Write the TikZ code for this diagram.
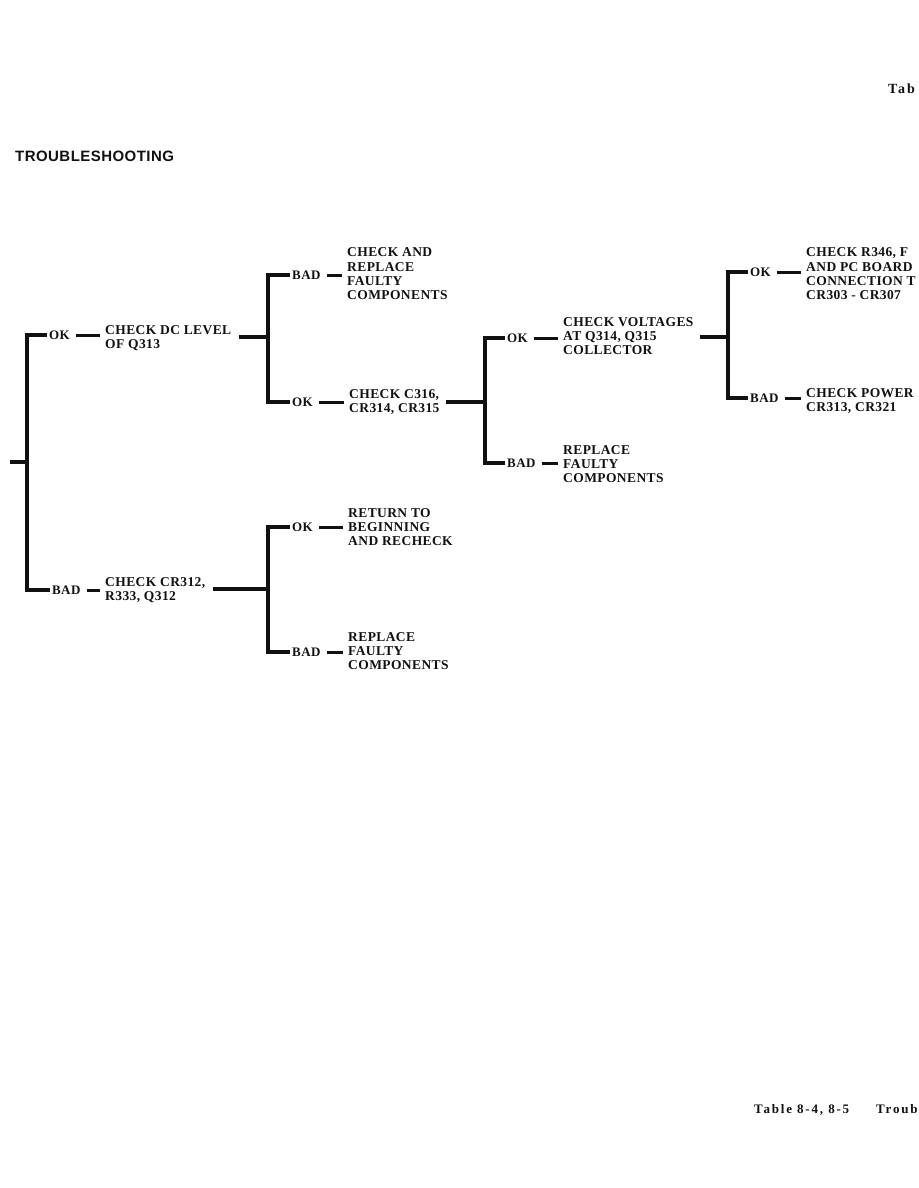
\documentclass[tikz,border=0pt]{standalone}
\usepackage{fontspec}
\setmainfont{Liberation Serif}
\newfontfamily\chartfont[LetterSpace=3]{Liberation Serif}
\newfontfamily\footfont[LetterSpace=14]{Liberation Serif}
\newfontfamily\headfont[LetterSpace=3]{Liberation Sans}
\usepackage{tikz}
\usetikzlibrary{
  positioning,
  calc,
}
\definecolor{ink}{HTML}{111111}
\definecolor{paper}{HTML}{FFFFFF}
\tikzset{
  wire/.style={draw=ink, line width=3.2pt},
  dashline/.style={draw=ink, line width=3pt, shorten <=4pt, shorten >=5pt},
  tag/.style={font=\chartfont\bfseries\fontsize{13}{14.3}\selectfont, text=ink, inner sep=2pt, anchor=west},
  checkbox/.style={
    font=\chartfont\bfseries\fontsize{13.5}{14.3}\selectfont,
    text=ink,
    inner sep=0pt,
    anchor=west,
    align=left,
  },
  heading/.style={font=\headfont\bfseries\fontsize{15}{18}\selectfont, text=ink, anchor=west, inner sep=0pt},
  pagetext/.style={font=\footfont\bfseries\fontsize{13}{15}\selectfont, text=ink, anchor=west, inner sep=0pt},
}

\begin{document}
\begin{tikzpicture}[x=1pt,y=-1pt]
  \useasboundingbox (0,0) rectangle (918,1188);
  \fill[paper] (0,0) rectangle (918,1188);

  % page texts
  \node[pagetext, font=\footfont\bfseries\fontsize{14}{16}\selectfont] (tabtop) at (888,89) {Tab};
  \node[heading] (title) at (15,156) {TROUBLESHOOTING};
  \node[pagetext] (foot) at (754,1110) {Table 8-4, 8-5\hspace{27pt}Troub};

  % junctions
  \coordinate (stub) at (10,462);
  \coordinate (j1) at (27,462);
  \coordinate (j2) at (268,337);
  \coordinate (j3) at (268,589);
  \coordinate (j4) at (485,402);
  \coordinate (j5) at (728,337);

  % first level
  \node[tag] (ok1) at (47,335) {OK};
  \node[checkbox] (dcl) at (105,338) {CHECK DC LEVEL\\OF Q313};
  \node[tag] (bad1) at (50,590) {BAD};
  \node[checkbox] (cr312) at (105,590) {CHECK CR312,\\R333, Q312};

  % second level
  \node[tag] (bad2) at (290,275) {BAD};
  \node[checkbox] (fix1) at (347,274) {CHECK AND\\REPLACE\\FAULTY\\COMPONENTS};
  \node[tag] (ok2) at (290,402) {OK};
  \node[checkbox] (c316) at (349,402) {CHECK C316,\\CR314, CR315};
  \node[tag] (ok3) at (290,527) {OK};
  \node[checkbox] (retn) at (348,527) {RETURN TO\\BEGINNING\\AND RECHECK};
  \node[tag] (bad3) at (290,652) {BAD};
  \node[checkbox] (fix2) at (348,651) {REPLACE\\FAULTY\\COMPONENTS};

  % third level
  \node[tag] (ok4) at (505,338) {OK};
  \node[checkbox] (volt) at (563,336) {CHECK VOLTAGES\\AT Q314, Q315\\COLLECTOR};
  \node[tag] (bad4) at (505,463) {BAD};
  \node[checkbox] (fix3) at (563,464) {REPLACE\\FAULTY\\COMPONENTS};

  % fourth level
  \node[tag] (ok5) at (748,272) {OK};
  \node[checkbox] (r346) at (806,274) {CHECK R346, F\\AND PC BOARD\\CONNECTION T\\CR303 - CR307};
  \node[tag] (bad5) at (748,398) {BAD};
  \node[checkbox] (power) at (806,401) {CHECK POWER\\CR313, CR321};

  % brackets
  \draw[wire] (stub) -- (j1);
  \draw[wire] (ok1.west) -| (j1) |- (bad1.west);
  \draw[wire, shorten <=8pt] (dcl.east |- j2) -- (j2);
  \draw[wire] (bad2.west) -| (j2) |- (ok2.west);
  \draw[wire, shorten <=8pt] (cr312.east |- j3) -- (j3);
  \draw[wire] (ok3.west) -| (j3) |- (bad3.west);
  \draw[wire, shorten <=6pt] (c316.east |- j4) -- (j4);
  \draw[wire] (ok4.west) -| (j4) |- (bad4.west);
  \draw[wire, shorten <=6pt] (volt.east |- j5) -- (j5);
  \draw[wire] (ok5.west) -| (j5) |- (bad5.west);

  % dashes
  \foreach \a/\b in {ok1/dcl, bad1/cr312, bad2/fix1, ok2/c316, ok3/retn, bad3/fix2, ok4/volt, bad4/fix3, ok5/r346, bad5/power} {
    \draw[dashline] (\a.east) -- (\a.east -| \b.west);
  }
\end{tikzpicture}
\end{document}
